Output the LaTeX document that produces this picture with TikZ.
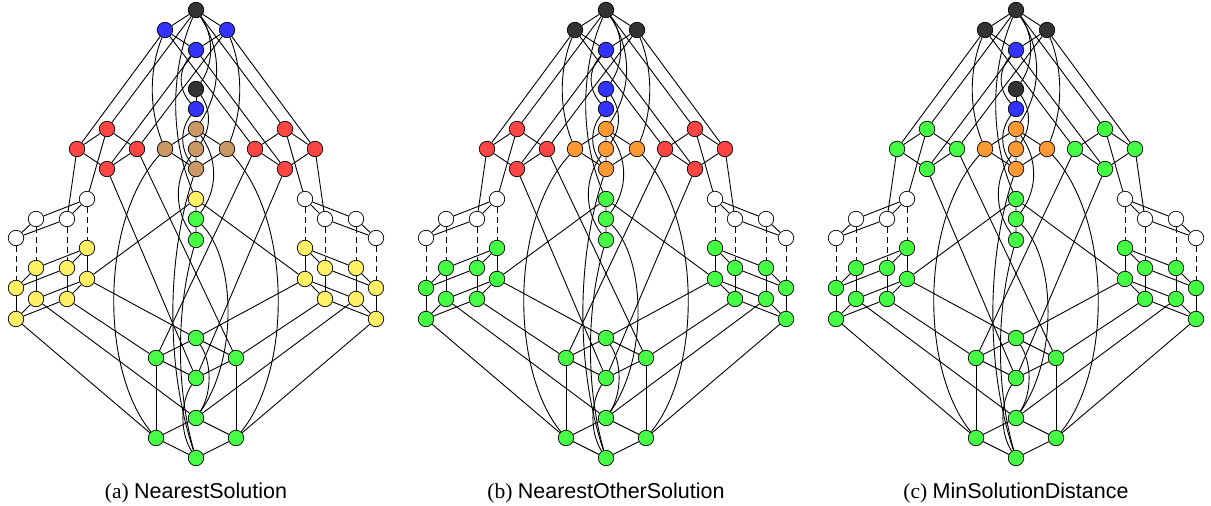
\documentclass[tikz,border=0pt]{standalone}
\usepackage{fontspec}
\setmainfont{Liberation Serif}
\setsansfont{Liberation Sans}
\pgfdeclarelayer{bg}
\pgfsetlayers{bg,main}
\definecolor{cdark}{HTML}{333333}
\definecolor{cblue}{HTML}{3333FF}
\definecolor{cred}{HTML}{FF4444}
\definecolor{cbrown}{HTML}{CC9966}
\definecolor{corange}{HTML}{FF9933}
\definecolor{cyellow}{HTML}{FFF066}
\definecolor{cgreen}{HTML}{44FF44}
\tikzset{
  nd/.style={circle,draw=black,line width=0.7pt,minimum size=15.5pt,inner sep=0pt},
  ln/.style={line width=0.9pt,black},
  dl/.style={line width=0.9pt,black,dash pattern=on 6pt off 4pt},
  captxt/.style={font=\fontsize{21.5}{25}\selectfont,anchor=base}
}
\newcommand\drawpanel[2]{%
\begin{scope}[xshift=#2]
% I family / top
\node[nd,fT] (#1T) at (196,10) {};
\node[nd,fIb] (#1BL) at (165,30) {};
\node[nd,fIb] (#1BR) at (227,30) {};
\node[nd,fI] (#1BC) at (196,50) {};
% N
\node[nd,fNt] (#1Dn) at (196,89) {};
\node[nd,fN] (#1Bn) at (196,109) {};
% L
\node[nd,fL] (#1N1) at (196,129) {};
\node[nd,fL] (#1NL) at (165,149) {};
\node[nd,fL] (#1NC) at (196,149) {};
\node[nd,fL] (#1NR) at (227,149) {};
\node[nd,fL] (#1N5) at (196,169) {};
% V and E
\node[nd,fVE] (#1RLt) at (107,129) {};
\node[nd,fVE] (#1RLo) at (77,149) {};
\node[nd,fVE] (#1RLi) at (137,149) {};
\node[nd,fVE] (#1RLb) at (107,169) {};
\node[nd,fVE] (#1RRt) at (285,129) {};
\node[nd,fVE] (#1RRo) at (315,149) {};
\node[nd,fVE] (#1RRi) at (255,149) {};
\node[nd,fVE] (#1RRb) at (285,169) {};
% D
\node[nd,fDt] (#1YC) at (196,199) {};
\node[nd,fD] (#1GA) at (196,219) {};
\node[nd,fD] (#1GB) at (196,240) {};
% S limits
\node[nd,fS] (#1WLt) at (87,199) {};
\node[nd,fS] (#1WLo) at (36,219) {};
\node[nd,fS] (#1WLi) at (67,219) {};
\node[nd,fS] (#1WLb) at (16,238) {};
\node[nd,fS] (#1WRt) at (305,199) {};
\node[nd,fS] (#1WRi) at (325,219) {};
\node[nd,fS] (#1WRo) at (356,219) {};
\node[nd,fS] (#1WRb) at (376,238) {};
% S^k
\node[nd,fSk] (#1YLt) at (87,248) {};
\node[nd,fSk] (#1YLo) at (36,268) {};
\node[nd,fSk] (#1YLi) at (67,268) {};
\node[nd,fSk] (#1YLb) at (16,288) {};
\node[nd,fSk] (#1ZLt) at (87,279) {};
\node[nd,fSk] (#1ZLo) at (36,299) {};
\node[nd,fSk] (#1ZLi) at (67,299) {};
\node[nd,fSk] (#1ZLb) at (16,319) {};
\node[nd,fSk] (#1YRt) at (305,248) {};
\node[nd,fSk] (#1YRi) at (325,268) {};
\node[nd,fSk] (#1YRo) at (356,268) {};
\node[nd,fSk] (#1YRb) at (376,288) {};
\node[nd,fSk] (#1ZRt) at (305,279) {};
\node[nd,fSk] (#1ZRi) at (325,299) {};
\node[nd,fSk] (#1ZRo) at (356,299) {};
\node[nd,fSk] (#1ZRb) at (376,319) {};
% M and R
\node[nd,fG] (#1Gt) at (196,338) {};
\node[nd,fG] (#1Gl) at (156,358) {};
\node[nd,fG] (#1Gr) at (236,358) {};
\node[nd,fG] (#1Gm) at (196,378) {};
\node[nd,fG] (#1Ht) at (196,418) {};
\node[nd,fG] (#1Hl) at (156,438) {};
\node[nd,fG] (#1Hr) at (236,438) {};
\node[nd,fG] (#1Hm) at (196,458) {};
\begin{pgfonlayer}{bg}
\draw[ln] (#1T)--(#1BL) (#1T)--(#1BR) (#1BL)--(#1BC) (#1BR)--(#1BC);
\draw[ln] (#1T)--(#1RLt) (#1T)--(#1RRt) (#1BC)--(#1RLb) (#1BC)--(#1RRb);
\draw[ln] (#1BL)--(#1RLo) (#1BL)--(#1RRi) (#1BR)--(#1RLi) (#1BR)--(#1RRo);
\draw[ln] (#1T) .. controls +(18,25) and +(18,-25) .. (#1Dn);
\draw[ln] (#1BC) .. controls +(-18,20) and +(-18,-20) .. (#1Bn);
\draw[ln] (#1T) .. controls +(26,40) and +(26,-40) .. (#1N1);
\draw[ln] (#1T) .. controls +(-26,60) and +(-26,-60) .. (#1YC);
\draw[ln] (#1BL) .. controls +(-16,40) and +(-16,-40) .. (#1NL);
\draw[ln] (#1BR) .. controls +(16,40) and +(16,-40) .. (#1NR);
\draw[ln] (#1Dn)--(#1Bn);
\draw[ln] (#1Dn) .. controls +(15,20) and +(15,-20) .. (#1NC);
\draw[ln] (#1Bn) .. controls +(-16,20) and +(-16,-20) .. (#1N5);
\draw[ln] (#1N1)--(#1NL) (#1N1)--(#1NC) (#1N1)--(#1NR) (#1NL)--(#1N5) (#1NC)--(#1N5) (#1NR)--(#1N5);
\draw[ln] (#1N1) .. controls +(22,30) and +(22,-30) .. (#1GA);
\draw[ln] (#1NC) .. controls +(-22,30) and +(-22,-30) .. (#1GB);
\draw[ln] (#1N5) .. controls +(-30,90) and +(-30,-90) .. (#1Hm);
\draw[ln] (#1NL) .. controls +(-65,71) and +(-56,-68) .. (#1Hl);
\draw[ln] (#1NR) .. controls +(65,71) and +(56,-68) .. (#1Hr);
% V, E
\draw[ln] (#1RLt)--(#1RLo) (#1RLt)--(#1RLi) (#1RLo)--(#1RLb) (#1RLi)--(#1RLb);
\draw[ln] (#1RRt)--(#1RRo) (#1RRt)--(#1RRi) (#1RRo)--(#1RRb) (#1RRi)--(#1RRb);
\draw[ln] (#1RLt)--(#1WLt) (#1RLo)--(#1WLi) (#1RLi)--(#1Gr) (#1RLb)--(#1Gm);
\draw[ln] (#1RRt)--(#1WRt) (#1RRo)--(#1WRi) (#1RRi)--(#1Gl) (#1RRb)--(#1Gm);
% D
\draw[ln] (#1YC)--(#1GA) (#1GA)--(#1GB) (#1YC)--(#1ZLt) (#1YC)--(#1ZRt);
\draw[ln] (#1GA) .. controls +(40,40) and +(42,-60) .. (#1Ht);
\draw[ln] (#1GB) .. controls +(-20,70) and +(-20,-70) .. (#1Hm);
% S families
\draw[ln] (#1WLt)--(#1WLo) (#1WLt)--(#1WLi) (#1WLo)--(#1WLb) (#1WLi)--(#1WLb);
\draw[ln] (#1WRt)--(#1WRo) (#1WRt)--(#1WRi) (#1WRo)--(#1WRb) (#1WRi)--(#1WRb);
\draw[dl] (#1WLt)--(#1YLt) (#1WLo)--(#1YLo) (#1WLi)--(#1YLi) (#1WLb)--(#1YLb);
\draw[dl] (#1WRt)--(#1YRt) (#1WRo)--(#1YRo) (#1WRi)--(#1YRi) (#1WRb)--(#1YRb);
\draw[ln] (#1YLt)--(#1YLo) (#1YLt)--(#1YLi) (#1YLo)--(#1YLb) (#1YLi)--(#1YLb);
\draw[ln] (#1ZLt)--(#1ZLo) (#1ZLt)--(#1ZLi) (#1ZLo)--(#1ZLb) (#1ZLi)--(#1ZLb);
\draw[ln] (#1YLt)--(#1ZLt) (#1YLo)--(#1ZLo) (#1YLi)--(#1ZLi) (#1YLb)--(#1ZLb);
\draw[ln] (#1YRt)--(#1YRo) (#1YRt)--(#1YRi) (#1YRo)--(#1YRb) (#1YRi)--(#1YRb);
\draw[ln] (#1ZRt)--(#1ZRo) (#1ZRt)--(#1ZRi) (#1ZRo)--(#1ZRb) (#1ZRi)--(#1ZRb);
\draw[ln] (#1YRt)--(#1ZRt) (#1YRo)--(#1ZRo) (#1YRi)--(#1ZRi) (#1YRb)--(#1ZRb);
\draw[ln] (#1ZLt)--(#1Gt) (#1ZLo)--(#1Ht) (#1ZLi)--(#1Gl) (#1ZLb)--(#1Hl);
\draw[ln] (#1ZRt)--(#1Gt) (#1ZRo)--(#1Ht) (#1ZRi)--(#1Gr) (#1ZRb)--(#1Hr);
% M, R cube
\draw[ln] (#1Gt)--(#1Gl) (#1Gt)--(#1Gr) (#1Gl)--(#1Gm) (#1Gr)--(#1Gm);
\draw[ln] (#1Ht)--(#1Hl) (#1Ht)--(#1Hr) (#1Hl)--(#1Hm) (#1Hr)--(#1Hm);
\draw[ln] (#1Gl)--(#1Hl) (#1Gr)--(#1Hr);
\draw[ln] (#1Gt) .. controls +(16,25) and +(16,-25) .. (#1Ht);
\draw[ln] (#1Gm) .. controls +(-16,25) and +(-16,-25) .. (#1Hm);
\end{pgfonlayer}
\end{scope}}
\begin{document}
\begin{tikzpicture}[x=1pt,y=-1pt]
\useasboundingbox (0,0) rectangle (1211,506);
\begin{scope}
\tikzset{fT/.style={fill=cdark},fIb/.style={fill=cblue},fI/.style={fill=cblue},
 fNt/.style={fill=cdark},fN/.style={fill=cblue},fL/.style={fill=cbrown},fVE/.style={fill=cred},
 fDt/.style={fill=cyellow},fD/.style={fill=cgreen},fS/.style={fill=white},fSk/.style={fill=cyellow},fG/.style={fill=cgreen}}
\drawpanel{a}{0pt}
\end{scope}
\begin{scope}
\tikzset{fT/.style={fill=cdark},fIb/.style={fill=cdark},fI/.style={fill=cblue},
 fNt/.style={fill=cblue},fN/.style={fill=cblue},fL/.style={fill=corange},fVE/.style={fill=cred},
 fDt/.style={fill=cgreen},fD/.style={fill=cgreen},fS/.style={fill=white},fSk/.style={fill=cgreen},fG/.style={fill=cgreen}}
\drawpanel{b}{410pt}
\end{scope}
\begin{scope}
\tikzset{fT/.style={fill=cdark},fIb/.style={fill=cdark},fI/.style={fill=cblue},
 fNt/.style={fill=cdark},fN/.style={fill=cblue},fL/.style={fill=corange},fVE/.style={fill=cgreen},
 fDt/.style={fill=cgreen},fD/.style={fill=cgreen},fS/.style={fill=white},fSk/.style={fill=cgreen},fG/.style={fill=cgreen}}
\drawpanel{c}{820pt}
\end{scope}
\node[captxt] (capa) at (196,498) {(a) \textsf{NearestSolution}};
\node[captxt] (capb) at (606,498) {(b) \textsf{NearestOtherSolution}};
\node[captxt] (capc) at (1016,498) {(c) \textsf{MinSolutionDistance}};
\end{tikzpicture}
\end{document}
